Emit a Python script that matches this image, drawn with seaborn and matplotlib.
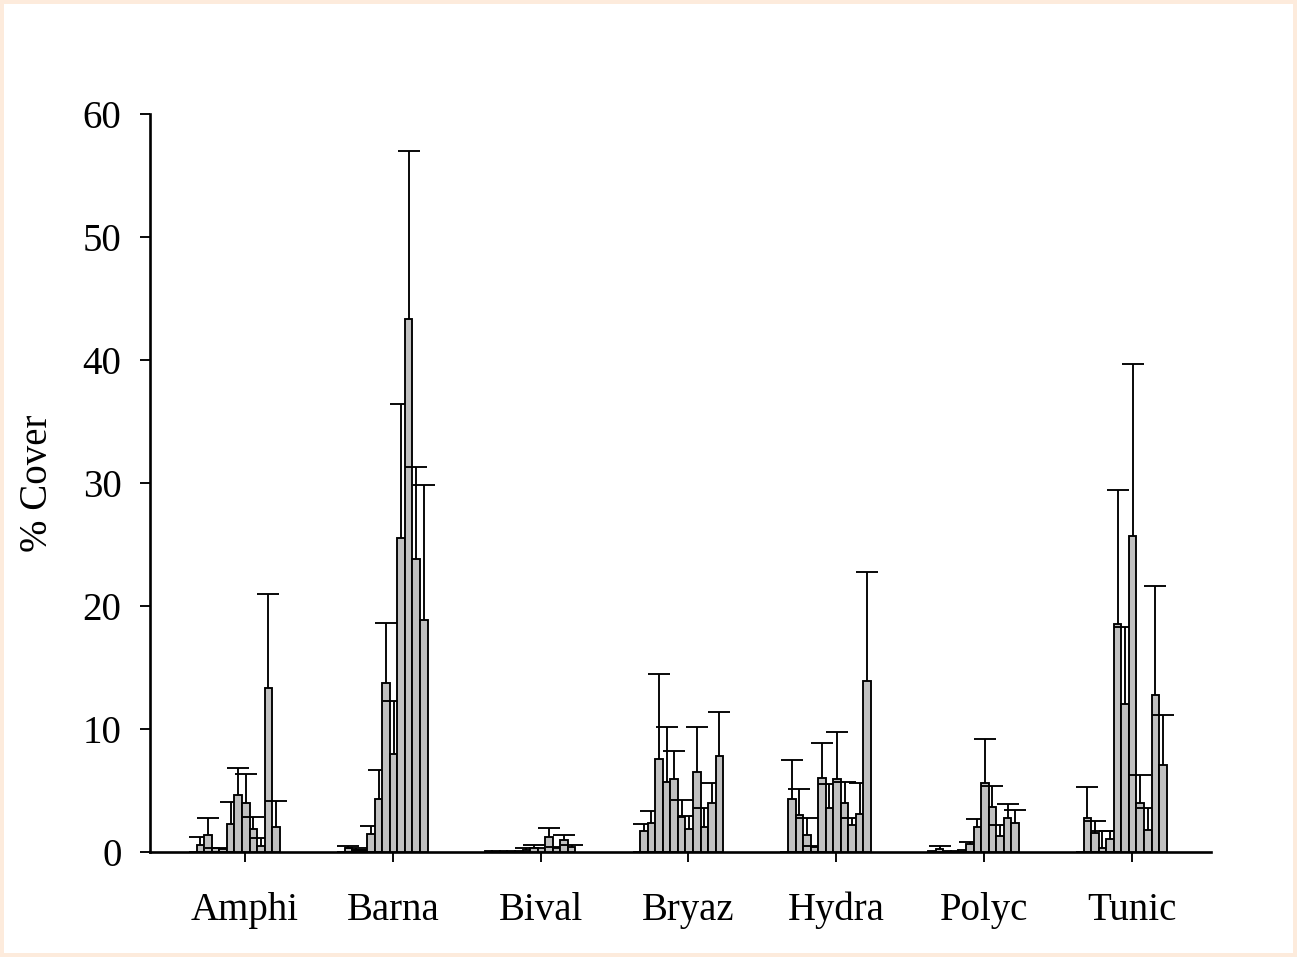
import numpy as np
import pandas as pd
import matplotlib
matplotlib.use("Agg")
import matplotlib.pyplot as plt
import seaborn as sns
from matplotlib.patches import Rectangle

# ---------------- data ----------------
groups = ["Amphi", "Barna", "Bival", "Bryaz", "Hydra", "Polyc", "Tunic"]
n_levels = 12

amphi_mean  = [0, 0.55, 1.38, 0.30, 0.22, 2.30, 4.63, 4.01, 1.87, 0.51, 13.36, 2.06]
amphi_upper = [0, 1.20, 2.74, 0.35, 0.22, 4.07, 6.80, 6.37, 2.82, 1.17, 20.98, 4.17]

barna_mean  = [0, 0.30, 0.20, 0.15, 1.50, 4.30, 13.70, 8.00, 25.50, 43.30, 23.80, 18.90]
barna_upper = [0, 0.45, 0.35, 0.20, 2.10, 6.70, 18.60, 12.30, 36.40, 57.00, 31.30, 29.80]

bival_mean  = [0.08, 0.08, 0.08, 0.08, 0.10, 0.20, 0.30, 0.30, 1.25, 0.30, 0.95, 0.40]
bival_upper = [0.08, 0.08, 0.08, 0.08, 0.10, 0.30, 0.55, 0.30, 1.92, 0.40, 1.38, 0.57]

bryaz_mean  = [0, 1.71, 2.33, 7.60, 5.66, 5.93, 2.87, 1.87, 6.53, 2.00, 4.00, 7.80]
bryaz_upper = [0, 2.28, 3.33, 14.50, 10.20, 8.24, 4.23, 2.90, 10.20, 3.60, 5.60, 11.36]

hydra_mean  = [0, 4.31, 3.00, 1.38, 0.43, 5.99, 3.60, 5.90, 4.00, 2.20, 3.06, 13.90]
hydra_upper = [0, 7.48, 5.12, 2.79, 0.50, 8.89, 5.50, 9.78, 5.70, 2.80, 5.58, 22.80]

polyc_mean  = [0.10, 0.25, 0.10, 0.10, 0.15, 0.62, 2.06, 5.58, 3.69, 1.30, 2.74, 2.33]
polyc_upper = [0.10, 0.49, 0.10, 0.10, 0.15, 0.84, 2.68, 9.19, 5.37, 2.20, 3.90, 3.41]

tunic_mean  = [0, 2.74, 1.52, 0.30, 1.03, 18.50, 12.00, 25.70, 4.00, 1.80, 12.80, 7.07]
tunic_upper = [0, 5.31, 2.52, 1.70, 1.70, 29.40, 18.30, 39.70, 6.30, 3.55, 21.60, 11.10]

yticks = [0, 10, 20, 30, 40, 50, 60]

means = np.array([amphi_mean, barna_mean, bival_mean, bryaz_mean,
                  hydra_mean, polyc_mean, tunic_mean])
uppers = np.array([amphi_upper, barna_upper, bival_upper, bryaz_upper,
                   hydra_upper, polyc_upper, tunic_upper])

# ---------------- style ----------------
sns.set_theme(style="white")
plt.rcParams["font.family"] = ["Liberation Serif", "DejaVu Serif"]

W, H = 1297, 957
fig = plt.figure(figsize=(W / 100, H / 100), dpi=100, facecolor="#FDEBDC")
fig.patches.append(Rectangle((4 / W, 4 / H), 1 - 8 / W, 1 - 8 / H,
                             transform=fig.transFigure, facecolor="white",
                             edgecolor="none", zorder=-10))
ax = fig.add_axes([150 / W, 105 / H, 1061 / W, 738 / H])
ax.set_facecolor("none")

bw = 0.0511          # bar width in category units
offset = 6.9         # group offset (bars)
cap_pt = 16.3
lw = 1.35

for j in range(n_levels):
    xs = np.arange(len(groups)) + (j - offset) * bw
    vals = means[:, j]
    ups = uppers[:, j]
    df = pd.DataFrame({"x": xs, "v": vals})
    n0 = len(ax.patches)
    sns.barplot(data=df, x="x", y="v", native_scale=True, orient="x",
                width=bw, color="#C0C0C0", saturation=1, edgecolor="black",
                linewidth=lw, errorbar=None, ax=ax)
    for p in ax.patches[n0:]:
        p.set_zorder(2 + 0.1 * j)
    m = ups > vals
    if m.any():
        ax.errorbar(xs[m], vals[m], yerr=[np.zeros(m.sum()), (ups - vals)[m]],
                    fmt="none", ecolor="black", elinewidth=lw, capsize=0,
                    zorder=2.03 + 0.1 * j)
        ax.plot(xs[m], ups[m], ls="none", marker="_", ms=cap_pt, mew=lw,
                color="black", zorder=2.05 + 0.1 * j)

ax.set_xlim(-0.643, 6.535)
ax.set_ylim(0, 60)
ax.set_xticks(range(len(groups)))
ax.set_xticklabels(groups)
ax.set_yticks(yticks)
ax.set_yticklabels([str(t) for t in yticks])
ax.set_xlabel("")
ax.set_ylabel("% Cover", fontsize=28, color="black", labelpad=19)

for s in ["top", "right"]:
    ax.spines[s].set_visible(False)
for s in ["left", "bottom"]:
    ax.spines[s].set_color("black")
    ax.spines[s].set_linewidth(1.9)
ax.tick_params(axis="both", which="major", bottom=True, left=True,
               direction="out", length=7.5, width=1.35,
               labelsize=28, colors="black")
ax.tick_params(axis="y", pad=13)
ax.tick_params(axis="x", pad=21)
ax.grid(False)

fig.savefig("out.png", dpi=100, facecolor=fig.get_facecolor())
